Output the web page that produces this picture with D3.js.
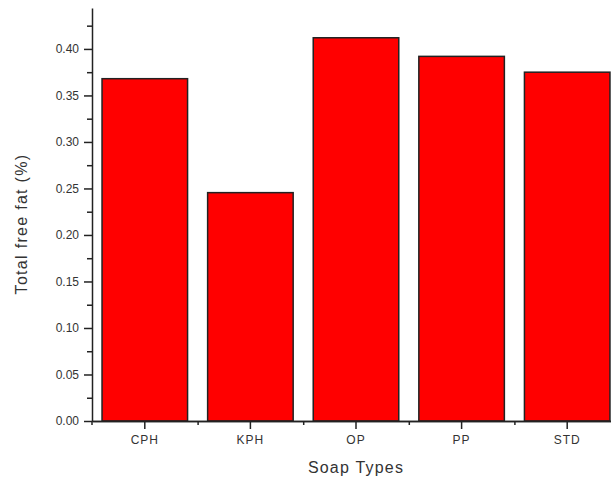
<!DOCTYPE html>
<html>
<head>
<meta charset="utf-8">
<script src="https://cdn.jsdelivr.net/npm/d3@7"></script>
<style>
  body { margin: 0; background: #fff; }
  text { font-family: "Liberation Sans", Arial, sans-serif; }
</style>
</head>
<body>
<div id="container"></div>
<script>
/* DATA */
const soapTypes = ["CPH", "KPH", "OP", "PP", "STD"];
const freeFat = [0.368, 0.2455, 0.412, 0.392, 0.375];
const yTicks = [0, 0.05, 0.10, 0.15, 0.20, 0.25, 0.30, 0.35, 0.40];
const yMinorTicks = d3.range(0.025, 0.45, 0.05);

/* CONSTANTS */
const width = 611, height = 482;
const x0 = 92, y0 = 421;

const svg = d3.select("#container")
  .append("svg")
  .attr("width", width)
  .attr("height", height);

// SCALES
const xScale = d3.scaleBand()
  .domain(soapTypes)
  .range([x0, x0 + 5 * 105.6])
  .paddingInner(0.19)
  .paddingOuter(0.095);

const xBoundary = d3.scaleLinear()
  .domain([0, 5])
  .range([x0, x0 + 5 * 105.6]);

const yScale = d3.scaleLinear()
  .domain([0, 0.444])
  .range([y0, 8]);

// BARS
svg.selectAll(".bar")
  .data(soapTypes)
  .join("rect")
  .attr("class", "bar")
  .attr("x", d => xScale(d))
  .attr("width", xScale.bandwidth())
  .attr("y", (d, i) => yScale(freeFat[i]))
  .attr("height", (d, i) => y0 - yScale(freeFat[i]))
  .attr("fill", "#ff0000")
  .attr("stroke", "#222")
  .attr("stroke-width", 1.5);

// Y AXIS
const yAxis = svg.append("g").attr("transform", `translate(${x0},0)`);
yAxis.call(d3.axisLeft(yScale).tickValues(yTicks).tickFormat(d3.format(".2f"))
  .tickSize(8).tickSizeOuter(0).tickPadding(5));
yAxis.append("g").call(d3.axisLeft(yScale).tickValues(yMinorTicks).tickFormat("").tickSize(5));
yAxis.selectAll(".domain").attr("stroke", "#222").attr("stroke-width", 1.5);
yAxis.selectAll(".domain").filter((d, i, n) => i > 0).remove();
yAxis.selectAll(".tick line").attr("stroke", "#222").attr("stroke-width", 1.5);
yAxis.selectAll(".tick text").attr("font-size", 12).attr("fill", "#333")
  .attr("font-family", "'Liberation Sans', Arial, sans-serif");

// X AXIS
const xAxis = svg.append("g").attr("transform", `translate(0,${y0})`);
xAxis.call(d3.axisBottom(xScale).tickSize(8).tickPadding(6).tickSizeOuter(0));
xAxis.append("g").call(d3.axisBottom(xBoundary).tickValues([1, 2, 3, 4]).tickFormat("").tickSize(4).tickSizeOuter(0));
xAxis.selectAll(".domain").attr("stroke", "#222").attr("stroke-width", 1.5);
xAxis.selectAll(".tick line").attr("stroke", "#222").attr("stroke-width", 1.5);
xAxis.selectAll(".tick text").attr("font-size", 12).attr("fill", "#333")
  .attr("font-family", "'Liberation Sans', Arial, sans-serif")
  .attr("letter-spacing", 1);
// left corner tick
svg.append("line")
  .attr("x1", x0).attr("x2", x0)
  .attr("y1", y0).attr("y2", y0 + 4)
  .attr("stroke", "#222").attr("stroke-width", 1.5);

// AXIS TITLES
svg.append("text")
  .attr("transform", `translate(27,224) rotate(-90)`)
  .attr("text-anchor", "middle")
  .attr("font-size", 16)
  .attr("letter-spacing", 1.3)
  .attr("fill", "#333")
  .text("Total free fat (%)");

svg.append("text")
  .attr("x", 356)
  .attr("y", 473)
  .attr("text-anchor", "middle")
  .attr("font-size", 16)
  .attr("letter-spacing", 1.2)
  .attr("fill", "#333")
  .text("Soap Types");
</script>
</body>
</html>
